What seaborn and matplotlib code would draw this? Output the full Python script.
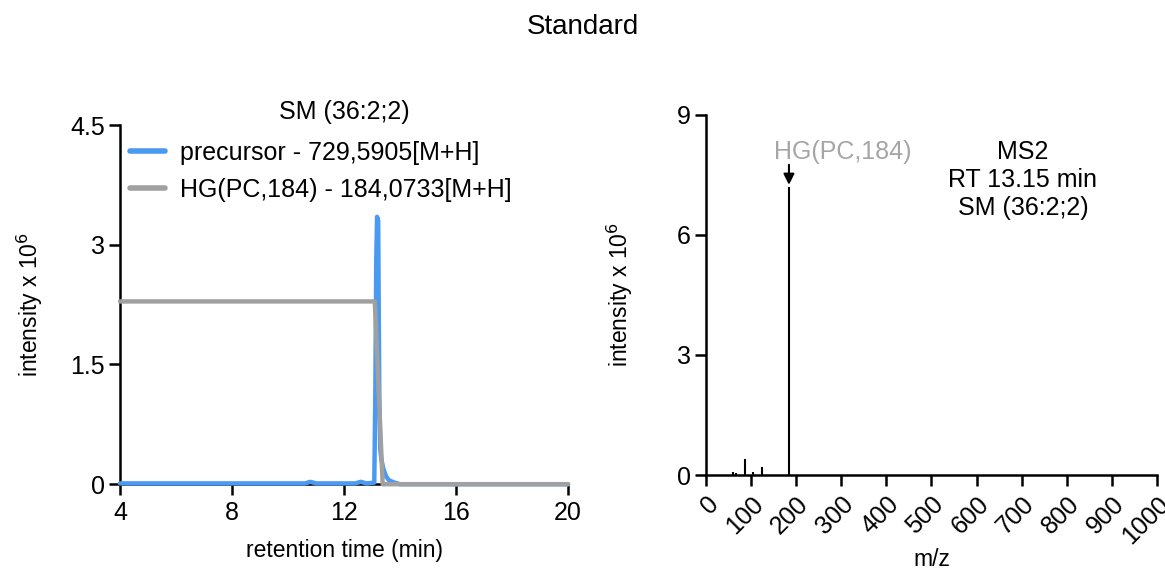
import matplotlib
matplotlib.use("Agg")
import matplotlib.pyplot as plt
import seaborn as sns
import pandas as pd

# ---- data ----
rt_precursor = [4.0, 10.6, 10.8, 11.0, 12.4, 12.6, 12.8, 13.08, 13.12, 13.15, 13.18, 13.22,
                13.26, 13.29, 13.33, 13.4, 13.5, 13.6, 13.8, 14.0, 20.0]
int_precursor = [0.01, 0.01, 0.03, 0.01, 0.01, 0.03, 0.01, 0.02, 1.2, 2.8, 3.35, 3.3,
                 1.1, 0.45, 0.32, 0.2, 0.1, 0.05, 0.02, 0.0, 0.0]
rt_hg = [4.0, 13.1, 13.38, 20.0]
int_hg = [2.29, 2.29, 0.0, 0.0]

ms2_mz = [59, 67, 86, 104, 125, 184]
ms2_int = [0.07, 0.06, 0.39, 0.07, 0.19, 7.2]

label_precursor = "precursor - 729,5905[M+H]"
label_hg = "HG(PC,184) - 184,0733[M+H]"
left_yticks = [0, 1.5, 3, 4.5]
left_ytick_labels = ["0", "1.5", "3", "4.5"]
left_xticks = [4, 8, 12, 16, 20]
right_yticks = [0, 3, 6, 9]
right_xticks = list(range(0, 1001, 100))

blue = "#4a9af2"
grey = "#a0a0a0"

sns.set_theme(style="ticks")
plt.rcParams["font.family"] = ["Liberation Sans", "DejaVu Sans"]
plt.rcParams["axes.linewidth"] = 1.8
plt.rcParams["xtick.major.width"] = 1.8
plt.rcParams["ytick.major.width"] = 1.8
plt.rcParams["xtick.major.size"] = 8
plt.rcParams["ytick.major.size"] = 8
plt.rcParams["xtick.major.pad"] = 4
plt.rcParams["ytick.major.pad"] = 3
plt.rcParams["xtick.color"] = "black"
plt.rcParams["ytick.color"] = "black"
plt.rcParams["xtick.labelcolor"] = "black"
plt.rcParams["ytick.labelcolor"] = "black"
plt.rcParams["axes.edgecolor"] = "black"
plt.rcParams["axes.labelcolor"] = "black"
plt.rcParams["text.color"] = "black"

fig = plt.figure(figsize=(11.65, 5.71), dpi=100)
ax1 = fig.add_axes([0.103, 0.152, 0.3846, 0.629])
ax2 = fig.add_axes([0.606, 0.168, 0.387, 0.631])

df_p = pd.DataFrame({"rt": rt_precursor, "intensity": int_precursor})
df_h = pd.DataFrame({"rt": rt_hg, "intensity": int_hg})
sns.lineplot(data=df_p, x="rt", y="intensity", ax=ax1, color=blue, lw=3.2,
             label=label_precursor, clip_on=False, zorder=3)
sns.lineplot(data=df_h, x="rt", y="intensity", ax=ax1, color=grey, lw=3.2,
             label=label_hg, clip_on=False, zorder=4)
ax1.set_xlim(4, 20)
ax1.set_ylim(0, 4.5)
ax1.set_xticks(left_xticks)
ax1.set_yticks(left_yticks)
ax1.set_yticklabels(left_ytick_labels)
ax1.tick_params(labelsize=18)
ax1.set_xlabel("retention time (min)", fontsize=16.5, labelpad=10)
ax1.set_ylabel("intensity x 10$^6$", fontsize=16.5, labelpad=18)
ax1.set_title("SM (36:2;2)", fontsize=18, pad=4)
sns.despine(ax=ax1)
leg = ax1.legend(loc="upper left", bbox_to_anchor=(0.022, 0.955), frameon=False,
                 fontsize=18, handlelength=1.4, handletextpad=0.6, labelspacing=0.5,
                 borderaxespad=0, borderpad=0)
for line in leg.get_lines():
    line.set_linewidth(4)

# right: MS2 spectrum
ax2.vlines(ms2_mz, 0, ms2_int, color="black", lw=1.5)
ax2.set_xlim(0, 1000)
ax2.set_ylim(0, 9)
ax2.set_xticks(right_xticks)
ax2.set_yticks(right_yticks)
ax2.tick_params(labelsize=18)
plt.setp(ax2.get_xticklabels(), rotation=45, ha="right", rotation_mode="anchor")
ax2.set_xlabel("m/z", fontsize=16.5, labelpad=0)
ax2.set_ylabel("intensity x 10$^6$", fontsize=16.5, labelpad=30)
sns.despine(ax=ax2)
ax2.annotate("", xy=(ms2_mz[-1], ms2_int[-1] + 0.05), xytext=(ms2_mz[-1], 7.75),
             arrowprops=dict(arrowstyle="-|>", color="black", lw=1.5,
                             shrinkA=0, shrinkB=0, mutation_scale=16))
ax2.text(303, 8.07, "HG(PC,184)", fontsize=18, color="#a6a6a6", ha="center", va="center")
ax2.text(703, 7.375, "MS2\nRT 13.15 min\nSM (36:2;2)", fontsize=18, ha="center",
         va="center", color="black")

fig.suptitle("Standard", fontsize=20, y=0.975)
fig.savefig("out.png", dpi=100)
